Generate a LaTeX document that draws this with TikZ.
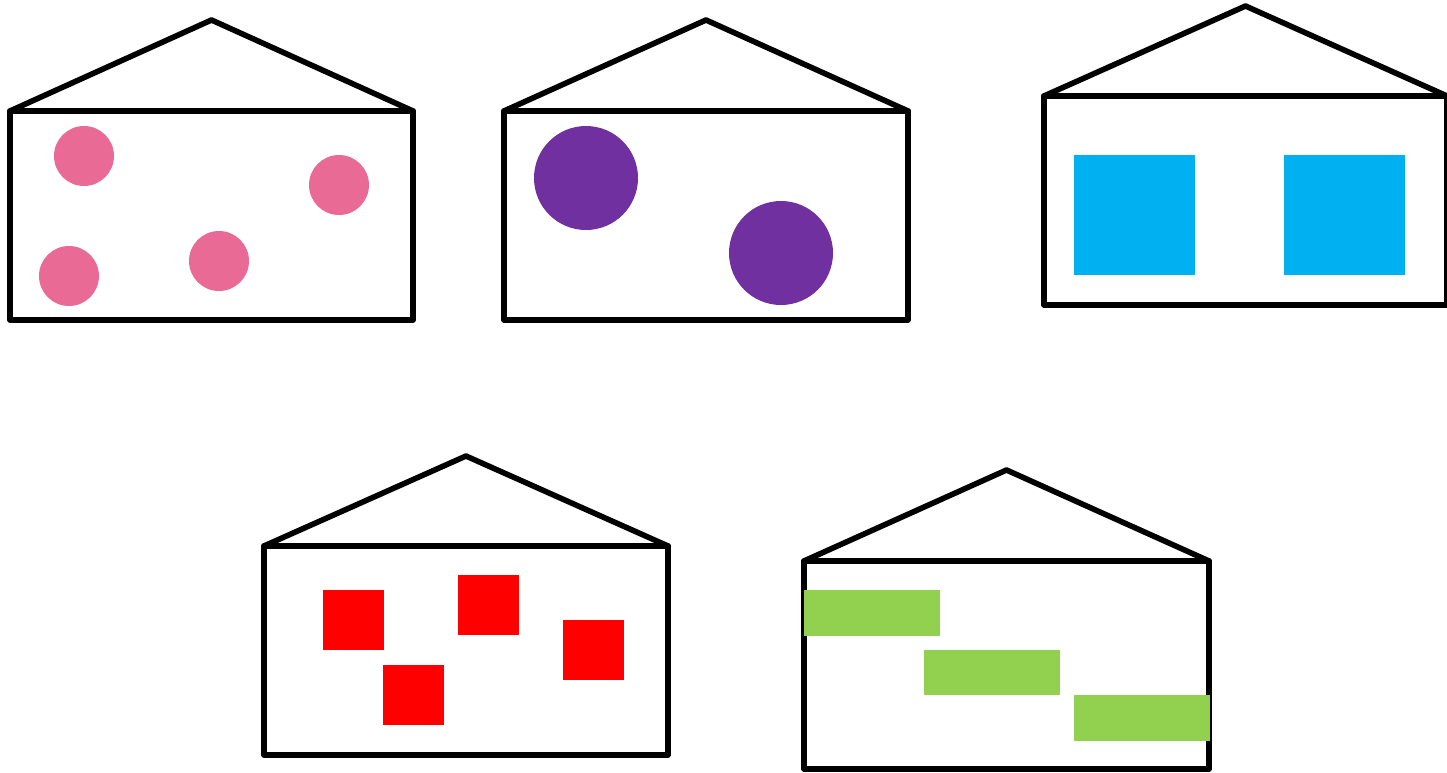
\documentclass[tikz,border=0pt]{standalone}
\definecolor{pinkc}{HTML}{E96A95}
\definecolor{purplec}{HTML}{7030A0}
\definecolor{bluec}{HTML}{00B0F0}
\definecolor{redc}{HTML}{FF0000}
\definecolor{greenc}{HTML}{92D050}
\tikzset{
  wall/.style={draw=black, line width=2.8pt, line join=round, line cap=round}
}
\newcommand{\myhouse}[5]{% x1 y1 x2 y2 apex-y
  \draw[wall] (#1,#2) rectangle (#3,#4);
  \draw[wall] (#1,#2) -- ({(#1+#3)/2},#5) -- (#3,#2);
}
\begin{document}
\begin{tikzpicture}[x=0.5pt,y=-0.5pt]
\useasboundingbox (0,0) rectangle (1447,772);
\clip (0,0) rectangle (1447,772);
% house 1
\myhouse{10}{111}{413}{320}{20}
\fill[pinkc] (84,156) circle (30);
\fill[pinkc] (339,185) circle (30);
\fill[pinkc] (69,276) circle (30);
\fill[pinkc] (219,261) circle (30);
% house 2
\myhouse{504}{111}{908}{320}{20}
\fill[purplec] (586,178) circle (52);
\fill[purplec] (781,253) circle (52);
% house 3
\myhouse{1044}{96}{1447}{305}{6}
\fill[bluec] (1074,155) rectangle (1195,275);
\fill[bluec] (1284,155) rectangle (1405,275);
% house 4
\myhouse{264}{546}{668}{755}{456}
\fill[redc] (323,590) rectangle (384,650);
\fill[redc] (458,575) rectangle (519,635);
\fill[redc] (563,620) rectangle (624,680);
\fill[redc] (383,665) rectangle (444,725);
% house 5
\myhouse{804}{561}{1209}{769}{470}
\fill[greenc] (804,590) rectangle (940,636);
\fill[greenc] (924,650) rectangle (1060,695);
\fill[greenc] (1074,695) rectangle (1210,741);
\end{tikzpicture}
\end{document}
